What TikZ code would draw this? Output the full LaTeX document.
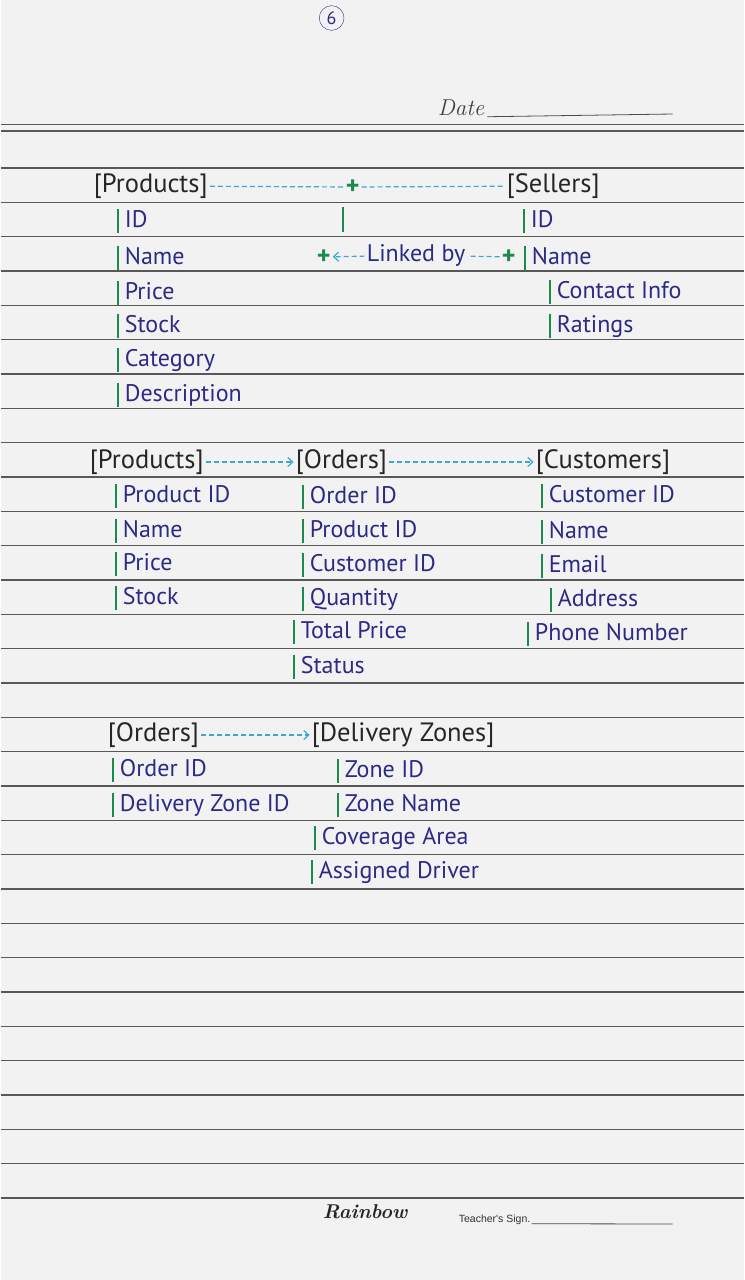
\documentclass[tikz,border=0pt]{standalone}
\usepackage{fontspec}
\newfontfamily\handfont{PT Sans}
\newfontfamily\printfont{Liberation Sans}
\usetikzlibrary{arrows.meta}
\definecolor{inkblue}{RGB}{44,42,132}
\definecolor{bargreen}{RGB}{28,138,78}
\definecolor{dashcyan}{RGB}{62,168,204}
\definecolor{paper}{RGB}{242,242,243}
\definecolor{rulegray}{RGB}{88,88,88}
\begin{document}
\begin{tikzpicture}
[x=1pt,y=-1pt,
  ruledecorate/.style={draw=rulegray,line width=1.3pt},
  tabledecorate/.style={anchor=west,inner sep=0pt,text=black!85,font=\handfont\fontsize{26.5}{26.5}\selectfont},
  textdecorate/.style={anchor=west,inner sep=0pt,text=inkblue,text height=18pt,text depth=5pt,font=\handfont\fontsize{24}{24}\selectfont},
  bardecorate/.style={-,draw=bargreen,line width=1.7pt},
  fielddecorate/.style={textdecorate,
    append after command={([xshift=-7pt]\tikzlastnode.north west) edge[bardecorate] ([xshift=-7pt]\tikzlastnode.south west)}},
  plusdecorate/.style={inner sep=0pt,text=bargreen,font=\handfont\bfseries\fontsize{26}{26}\selectfont},
  linkdecorate/.style={-,draw=dashcyan,line width=1.2pt,dash pattern=on 5pt off 3pt,shorten <=2pt,shorten >=2pt},
  arrowdecorate/.style={linkdecorate,-{Straight Barb[length=5pt,width=9pt]}},
  signdecorate/.style={-,draw=black!70,line width=0.8pt}]
% paper and ruling
\fill[paper] (0,0) rectangle (743,1280);
\draw[ruledecorate] (0,124.5) -- (743,124.5);
\draw[ruledecorate] (0,131) -- (743,131);
\foreach \i in {0,...,30}
  \draw[ruledecorate] (0,168+34.33*\i) -- (743,168+34.33*\i);
%
%%% page head and foot
\node (pageno) at (331,18) [circle,draw=inkblue,thin,inner sep=3pt,text=inkblue,font=\handfont\fontsize{18}{18}\selectfont] {6};
\node (date) at (437,108) [anchor=west,inner sep=0pt,text=black!75,font=\rmfamily\itshape\fontsize{23}{23}\selectfont] {Date};
\coordinate (dateend) at (672,114);
\node (brand) at (322,1212) [anchor=west,inner sep=0pt,text=black!85,font=\rmfamily\itshape\bfseries\fontsize{20}{20}\selectfont] {Rainbow};
\node (sign) at (458,1220) [anchor=west,inner sep=0pt,text=black!80,font=\printfont\fontsize{10.5}{10.5}\selectfont] {Teacher's Sign.};
\coordinate (signend) at (672,1224);
\path
([xshift=3pt,yshift=-1pt]date.base east) edge[signdecorate] (dateend)
([xshift=1pt,yshift=-1pt]sign.base east) edge[signdecorate] (signend);
%
%%% products and sellers
% nodes
\node (prodA) at (93,186) [tabledecorate] {[Products]};
\node (plusA) at (352,187) [plusdecorate] {+};
\node (sellA) at (506,186) [tabledecorate] {[Sellers]};
\coordinate (linktop) at (342,207);
\coordinate (linkbot) at (342,232);
\node (plusL) at (323,257) [plusdecorate] {+};
\node (linked) at (366,255) [textdecorate] {Linked by};
\node (plusR) at (508,257) [plusdecorate] {+};
\node (pidA) at (124,221) [fielddecorate] {ID};
\node (pnameA) at (124,258) [fielddecorate] {Name};
\node (ppriceA) at (124,293) [fielddecorate] {Price};
\node (pstockA) at (124,326) [fielddecorate] {Stock};
\node (pcatA) at (124,360) [fielddecorate] {Category};
\node (pdescA) at (124,395) [fielddecorate] {Description};
\node (sidA) at (530,221) [fielddecorate] {ID};
\node (snameA) at (531,258) [fielddecorate] {Name};
\node (scontA) at (556,292) [fielddecorate] {Contact Info};
\node (srateA) at (556,326) [fielddecorate] {Ratings};
% edges
\path
(prodA) edge[linkdecorate] (plusA)
(plusA) edge[linkdecorate] (sellA)
(linktop) edge[bardecorate] (linkbot)
(linked) edge[arrowdecorate] (plusL)
(plusR) edge[linkdecorate] (linked);
%
%%% products, orders and customers
% nodes
\node (prodB) at (89,462) [tabledecorate] {[Products]};
\node (ordB) at (295,462) [tabledecorate] {[Orders]};
\node (custB) at (535,462) [tabledecorate] {[Customers]};
\node (pidB) at (122,496) [fielddecorate] {Product ID};
\node (pnameB) at (122,531) [fielddecorate] {Name};
\node (ppriceB) at (122,564) [fielddecorate] {Price};
\node (pstockB) at (122,598) [fielddecorate] {Stock};
\node (oidB) at (309,497) [fielddecorate] {Order ID};
\node (opidB) at (309,531) [fielddecorate] {Product ID};
\node (ocidB) at (309,565) [fielddecorate] {Customer ID};
\node (oqtyB) at (309,599) [fielddecorate] {Quantity};
\node (ototB) at (300,632) [fielddecorate] {Total Price};
\node (ostatB) at (300,667) [fielddecorate] {Status};
\node (cidB) at (548,496) [fielddecorate] {Customer ID};
\node (cnameB) at (548,532) [fielddecorate] {Name};
\node (cmailB) at (548,566) [fielddecorate] {Email};
\node (caddrB) at (557,600) [fielddecorate] {Address};
\node (cphoneB) at (534,634) [fielddecorate] {Phone Number};
% edges
\path
(prodB) edge[arrowdecorate] (ordB)
(ordB) edge[arrowdecorate] (custB);
%
%%% orders and delivery zones
% nodes
\node (ordC) at (107,735) [tabledecorate] {[Orders]};
\node (zoneC) at (311,735) [tabledecorate] {[Delivery Zones]};
\node (oidC) at (119,770) [fielddecorate] {Order ID};
\node (ozoneC) at (119,805) [fielddecorate] {Delivery Zone ID};
\node (zidC) at (344,771) [fielddecorate] {Zone ID};
\node (znameC) at (344,805) [fielddecorate] {Zone Name};
\node (zareaC) at (321,838) [fielddecorate] {Coverage Area};
\node (zdrivC) at (318,872) [fielddecorate] {Assigned Driver};
% edges
\path
(ordC) edge[arrowdecorate] (zoneC);
\end{tikzpicture}
\end{document}
